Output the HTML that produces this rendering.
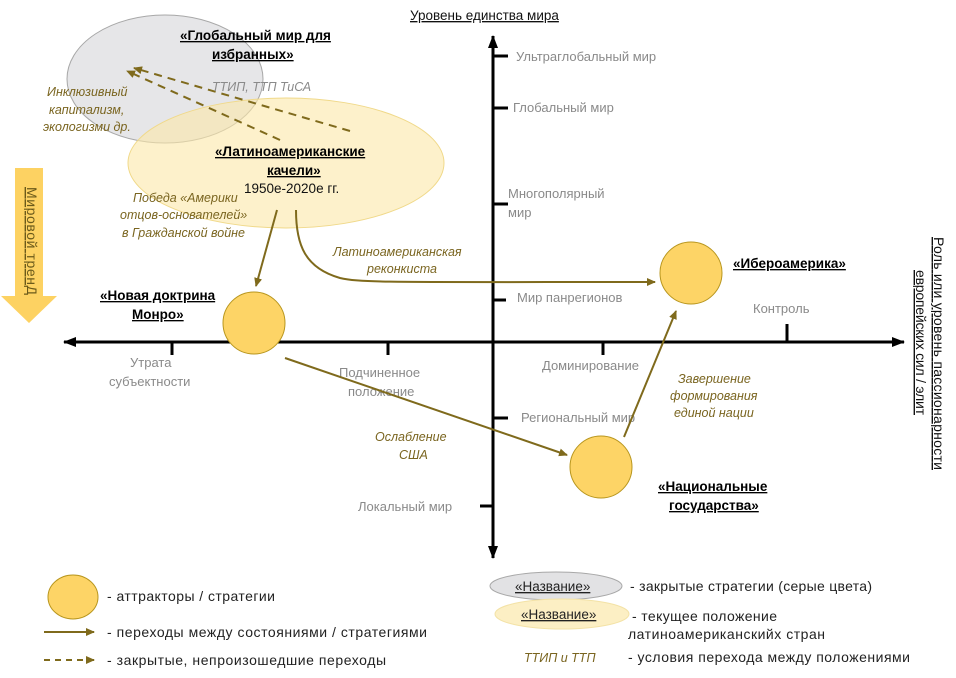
<!DOCTYPE html>
<html><head><meta charset="utf-8"><style>
html,body{margin:0;padding:0;background:#fff;}
svg{display:block;font-family:"Liberation Sans","DejaVu Sans",sans-serif;}
.g{fill:#8a8a8a;font-size:13px;}
.i{fill:#7a6520;font-size:12.5px;font-style:italic;}
.b{fill:#000;font-size:13.5px;font-weight:bold;text-decoration:underline;}
.l{fill:#222;font-size:14px;}
</style></head><body>
<svg width="956" height="678" viewBox="0 0 956 678" xmlns="http://www.w3.org/2000/svg">
<defs>
<marker id="ah" markerWidth="10" markerHeight="10" refX="8" refY="5" orient="auto" markerUnits="userSpaceOnUse"><path d="M0,1 L9,5 L0,9 Z" fill="#7f6a1c"/></marker>
<marker id="bk" markerWidth="14" markerHeight="12" refX="12" refY="6" orient="auto" markerUnits="userSpaceOnUse"><path d="M0,1 L13,6 L0,11 Z" fill="#000"/></marker>
</defs>
<ellipse cx="165" cy="79" rx="98" ry="64" fill="#e6e6e8" stroke="#a8a8a8" stroke-width="1"/>
<ellipse cx="286" cy="163" rx="158" ry="65" fill="#fbe7a8" fill-opacity="0.6" stroke="#f0d98a" stroke-width="1"/>
<path d="M15,168 H43 V296 H57 L29,323 L1,296 H15 Z" fill="#fdd262"/>
<text transform="translate(27,187) rotate(90)" font-size="14" fill="#6b5a1a" text-decoration="underline" textLength="108">Мировой тренД</text>
<line x1="493" y1="552" x2="493" y2="36" stroke="#000" stroke-width="3" marker-end="url(#bk)"/>
<line x1="493" y1="45" x2="493" y2="558" stroke="#000" stroke-width="3" marker-end="url(#bk)"/>
<line x1="480" y1="342" x2="904" y2="342" stroke="#000" stroke-width="3" marker-end="url(#bk)"/>
<line x1="500" y1="342" x2="64" y2="342" stroke="#000" stroke-width="3" marker-end="url(#bk)"/>
<g stroke="#000" stroke-width="3">
<line x1="493" y1="56" x2="508" y2="56"/>
<line x1="493" y1="108" x2="508" y2="108"/>
<line x1="493" y1="204" x2="508" y2="204"/>
<line x1="493" y1="300" x2="506" y2="300"/>
<line x1="493" y1="418" x2="508" y2="418"/>
<line x1="480" y1="506" x2="493" y2="506"/>
<line x1="172" y1="342" x2="172" y2="355"/>
<line x1="388" y1="342" x2="388" y2="355"/>
<line x1="603" y1="342" x2="603" y2="355"/>
<line x1="787" y1="324" x2="787" y2="342"/>
</g>
<text x="410" y="20" font-size="13.5" fill="#111" text-decoration="underline">Уровень единства мира</text>
<text class="g" x="516" y="61">Ультраглобальный мир</text>
<text class="g" x="513" y="112">Глобальный мир</text>
<text class="g" x="508" y="198">Многополярный</text>
<text class="g" x="508" y="217">мир</text>
<text class="g" x="517" y="302">Мир панрегионов</text>
<text class="g" x="521" y="422">Региональный мир</text>
<text class="g" x="358" y="511">Локальный  мир</text>
<text class="g" x="753" y="313">Контроль</text>
<text class="g" x="542" y="370">Доминирование</text>
<text class="g" x="339" y="377">Подчиненное</text>
<text class="g" x="348" y="396">положение</text>
<text class="g" x="130" y="367">Утрата</text>
<text class="g" x="109" y="386">субъектности</text>
<text transform="translate(934,237) rotate(90)" font-size="14" fill="#111" text-decoration="underline" textLength="233">Роль или уровень пассионарности</text>
<text transform="translate(916,270) rotate(90)" font-size="14" fill="#111" text-decoration="underline" textLength="145">европейских сил / элит</text>
<g stroke="#7f6a1c" stroke-width="2" fill="none">
<line x1="280" y1="140" x2="127" y2="71" stroke-dasharray="8,6" marker-end="url(#ah)"/>
<line x1="350" y1="131" x2="134" y2="68" stroke-dasharray="8,6" marker-end="url(#ah)"/>
<line x1="277" y1="210" x2="256" y2="286" marker-end="url(#ah)"/>
<path d="M296,210 C296,245 305,268 340,278 C360,283 400,282 655,282" marker-end="url(#ah)"/>
<line x1="285" y1="358" x2="567" y2="455" marker-end="url(#ah)"/>
<line x1="624" y1="437" x2="676" y2="311" marker-end="url(#ah)"/>
</g>
<g fill="#fdd466" stroke="#b8961e" stroke-width="1">
<circle cx="254" cy="323" r="31"/>
<circle cx="691" cy="273" r="31"/>
<circle cx="601" cy="467" r="31"/>
</g>
<text class="b" x="180" y="40">«Глобальный мир для</text>
<text class="b" x="212" y="59">избранных»</text>
<text class="b" x="215" y="156">«Латиноамериканские</text>
<text class="b" x="267" y="175">качели»</text>
<text x="244" y="193" font-size="13.5" fill="#111">1950е-2020е гг.</text>
<text class="b" x="100" y="300">«Новая доктрина</text>
<text class="b" x="132" y="319">Монро»</text>
<text class="b" x="733" y="268">«Ибероамерика»</text>
<text class="b" x="658" y="491">«Национальные</text>
<text class="b" x="669" y="510">государства»</text>
<text class="i" x="212" y="91" style="fill:#8a8a8a">ТТИП, ТТП ТиСА</text>
<text class="i" x="47" y="96">Инклюзивный</text>
<text class="i" x="49" y="114">капитализм,</text>
<text class="i" x="43" y="131">экологизми др.</text>
<text class="i" x="133" y="202">Победа «Америки</text>
<text class="i" x="120" y="219">отцов-основателей»</text>
<text class="i" x="122" y="237">в Гражданской войне</text>
<text class="i" x="333" y="256">Латиноамериканская</text>
<text class="i" x="367" y="273">реконкиста</text>
<text class="i" x="678" y="383">Завершение</text>
<text class="i" x="670" y="400">формирования</text>
<text class="i" x="674" y="417">единой нации</text>
<text class="i" x="375" y="441">Ослабление</text>
<text class="i" x="399" y="459">США</text>
<ellipse cx="73" cy="597" rx="25" ry="22" fill="#fdd466" stroke="#b8961e"/>
<text class="l" x="107" y="601" textLength="168">- аттракторы  / стратегии</text>
<line x1="44" y1="632" x2="94" y2="632" stroke="#7f6a1c" stroke-width="2" marker-end="url(#ah)"/>
<text class="l" x="107" y="637" textLength="320">- переходы между состояниями / стратегиями</text>
<line x1="44" y1="660" x2="94" y2="660" stroke="#7f6a1c" stroke-width="2" stroke-dasharray="6,5" marker-end="url(#ah)"/>
<text class="l" x="107" y="665" textLength="279">- закрытые, непроизошедшие переходы</text>
<ellipse cx="556" cy="586" rx="66" ry="14" fill="#e2e2e4" stroke="#a8a8a8"/>
<text x="515" y="591" font-size="13.5" fill="#222" text-decoration="underline">«Название»</text>
<text class="l" x="630" y="591" textLength="242">- закрытые стратегии (серые цвета)</text>
<ellipse cx="562" cy="614" rx="67" ry="15" fill="#fcefc4" stroke="#f3e2a6"/>
<text x="521" y="619" font-size="13.5" fill="#222" text-decoration="underline">«Название»</text>
<text class="l" x="632" y="621" textLength="145">- текущее положение</text>
<text class="l" x="628" y="639" textLength="197">латиноамериканскийх стран</text>
<text class="i" x="524" y="662">ТТИП и ТТП</text>
<text class="l" x="628" y="662" textLength="282">- условия перехода между положениями</text>
</svg>
</body></html>
